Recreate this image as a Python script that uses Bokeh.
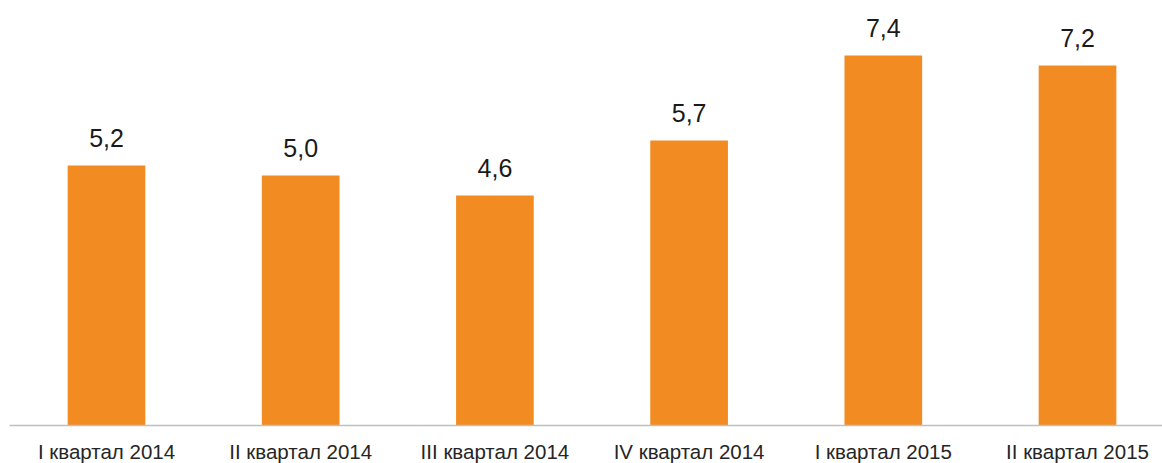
from bokeh.plotting import figure
from bokeh.models import ColumnDataSource, Range1d, FixedTicker
from bokeh.embed import file_html
from bokeh.resources import INLINE
from bokeh.core.properties import value

categories = ["I квартал 2014", "II квартал 2014", "III квартал 2014",
              "IV квартал 2014", "I квартал 2015", "II квартал 2015"]
values = [5.2, 5.0, 4.6, 5.7, 7.4, 7.2]
value_labels = [f"{v:.1f}".replace(".", ",") for v in values]

xs = list(range(len(categories)))
src = ColumnDataSource(dict(x=xs, top=values, lab=value_labels))

p = figure(frame_width=1153, frame_height=425, output_backend="svg", toolbar_location=None,
           x_range=Range1d(-0.4995, -0.4995 + 1153 / 194.2), y_range=Range1d(0, 8.5),
           y_axis_location=None, min_border_left=9, min_border_right=0,
           min_border_top=0, min_border_bottom=0)
p.outline_line_color = None
p.grid.visible = False
p.background_fill_color = "white"
p.border_fill_color = "white"

p.vbar(x="x", top="top", width=0.40, bottom=0, source=src,
       fill_color="#F28C22", line_color=None)
p.text(x="x", y="top", text="lab", source=src, text_align="center",
       text_baseline="alphabetic", y_offset=-28, text_font=value("Liberation Sans"),
       text_font_size="25px", text_color="#1a1a1a")

ax = p.xaxis[0]
ax.ticker = FixedTicker(ticks=xs)
ax.major_label_overrides = {i: c for i, c in enumerate(categories)}
ax.major_tick_line_color = None
ax.minor_tick_line_color = None
ax.major_tick_out = 0
ax.major_tick_in = 0
ax.axis_line_color = "#BFBFBF"
ax.axis_line_width = 1.5
ax.major_label_standoff = 14
ax.major_label_text_font = "Liberation Sans"
ax.major_label_text_font_size = "20.5px"
ax.major_label_text_color = "#262626"

open("out.html", "w").write(file_html(p, INLINE))
